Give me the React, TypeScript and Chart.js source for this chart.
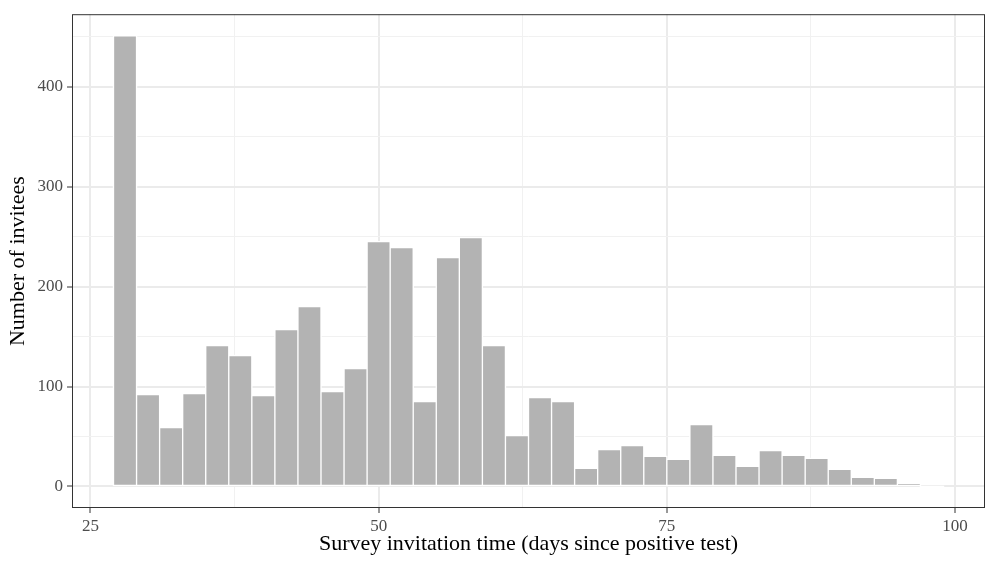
import React, { useEffect, useRef } from 'react';
import { Chart, registerables } from 'chart.js';

Chart.register(...registerables);

// Histogram bins (2-day bins, centres) and counts
const binCenters = [28, 30, 32, 34, 36, 38, 40, 42, 44, 46, 48, 50, 52, 54, 56, 58, 60, 62, 64, 66, 68, 70, 72, 74, 76, 78, 80, 82, 84, 86, 88, 90, 92, 94, 96, 98];
const counts = [451, 92, 59, 93, 141, 131, 91, 157, 180, 95, 118, 245, 239, 85, 229, 249, 141, 51, 89, 85, 18, 37, 41, 30, 27, 62, 31, 20, 36, 31, 28, 17, 9, 8, 3, 0];

// Tick positions
const xMajor = [25, 50, 75, 100];
const xMinor = [37.5, 62.5, 87.5];
const yMajor = [0, 100, 200, 300, 400];
const yMinor = [50, 150, 250, 350, 450];

const xTitle = 'Survey invitation time (days since positive test)';
const yTitle = 'Number of invitees';

const FONT = '"Liberation Serif", "Times New Roman", serif';

const isIn = (list: number[], v: number) => list.some((m) => Math.abs(m - v) < 1e-6);

export default function App() {
  const ref = useRef<HTMLCanvasElement>(null);

  useEffect(() => {
    document.body.style.margin = '0';
    const canvas = ref.current;
    if (!canvas) return;

    const halo = {
      id: 'halo',
      beforeDatasetsDraw(chart: any) {
        const ctx = chart.ctx;
        const meta = chart.getDatasetMeta(0);
        ctx.save();
        ctx.fillStyle = '#ffffff';
        meta.data.forEach((el: any) => {
          const { x, y, base, width } = el.getProps(['x', 'y', 'base', 'width'], true);
          const top = Math.min(y, base);
          const h = Math.abs(base - y);
          ctx.fillRect(x - width / 2 - 0.7, top - 0.7, width + 1.4, h + 1.4);
        });
        ctx.restore();
      },
    };

    const frame = {
      id: 'frame',
      afterDraw(chart: any) {
        const { left, top, right, bottom } = chart.chartArea;
        const ctx = chart.ctx;
        ctx.save();
        ctx.strokeStyle = '#333333';
        ctx.lineWidth = 1;
        ctx.strokeRect(left + 0.5, top + 0.5, right - left - 1, bottom - top - 1);
        ctx.restore();
      },
    };

    const chart = new Chart(canvas, {
      type: 'bar',
      data: {
        datasets: [
          {
            data: binCenters.map((c, i) => ({ x: c, y: counts[i] })),
            backgroundColor: '#B3B3B3',
            borderColor: '#FFFFFF',
            borderWidth: 1,
            borderSkipped: false,
            barPercentage: 1,
            categoryPercentage: 1,
          },
        ],
      },
      options: {
        responsive: false,
        animation: false,
        devicePixelRatio: 1,
        layout: { padding: { top: 12, right: 11, left: 0, bottom: 0 } },
        plugins: { legend: { display: false }, tooltip: { enabled: false } },
        scales: {
          x: {
            type: 'linear',
            min: 23.4,
            max: 102.6,
            offset: false,
            afterBuildTicks: (scale: any) => {
              scale.ticks = [...xMajor, ...xMinor].sort((a, b) => a - b).map((v) => ({ value: v }));
            },
            afterFit: (scale: any) => {
              scale.height = 62;
            },
            ticks: {
              autoSkip: false,
              maxRotation: 0,
              minRotation: 0,
              includeBounds: false,
              padding: 3,
              color: '#4D4D4D',
              font: { family: FONT, size: 17 },
              callback: (v: any) => (isIn(xMajor, Number(v)) ? String(v) : ''),
            },
            grid: {
              offset: false,
              color: (c: any) => (c.tick && isIn(xMajor, c.tick.value) ? '#EBEBEB' : '#F1F1F1'),
              lineWidth: (c: any) => (c.tick && isIn(xMajor, c.tick.value) ? 2 : 1),
              tickColor: (c: any) => (c.tick && isIn(xMajor, c.tick.value) ? '#333333' : 'rgba(0,0,0,0)'),
              tickWidth: 1,
              tickLength: 5,
              drawTicks: true,
            },
            border: { display: false },
            title: {
              display: true,
              text: xTitle,
              color: '#000000',
              font: { family: FONT, size: 22 },
              padding: { top: 0, bottom: 13 },
            },
          },
          y: {
            type: 'linear',
            min: -21.6,
            max: 472.7,
            afterBuildTicks: (scale: any) => {
              scale.ticks = [...yMajor, ...yMinor].sort((a, b) => a - b).map((v) => ({ value: v }));
            },
            afterFit: (scale: any) => {
              scale.width = 72;
            },
            ticks: {
              autoSkip: false,
              includeBounds: false,
              padding: 4,
              color: '#4D4D4D',
              font: { family: FONT, size: 17 },
              callback: (v: any) => (isIn(yMajor, Number(v)) ? String(v) : ''),
            },
            grid: {
              color: (c: any) => (c.tick && isIn(yMajor, c.tick.value) ? '#EBEBEB' : '#F1F1F1'),
              lineWidth: (c: any) => (c.tick && isIn(yMajor, c.tick.value) ? 2 : 1),
              tickColor: (c: any) => (c.tick && isIn(yMajor, c.tick.value) ? '#333333' : 'rgba(0,0,0,0)'),
              tickWidth: 1,
              tickLength: 5,
              drawTicks: true,
            },
            border: { display: false },
            title: {
              display: true,
              text: yTitle,
              color: '#000000',
              font: { family: FONT, size: 22 },
              padding: { top: 5, bottom: 0 },
            },
          },
        },
      },
      plugins: [halo, frame],
    } as any);

    return () => {
      chart.destroy();
    };
  }, []);

  return (
    <div style={{ width: 996, height: 570 }}>
      <canvas ref={ref} width={996} height={570} style={{ display: 'block' }} />
    </div>
  );
}
